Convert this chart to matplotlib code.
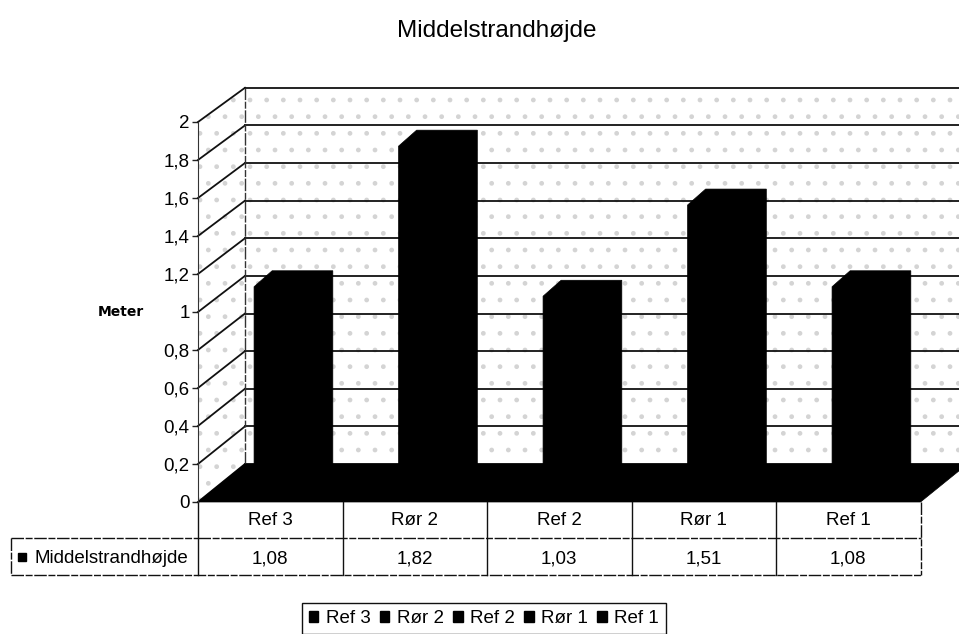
import matplotlib
matplotlib.use("Agg")
import matplotlib.pyplot as plt
from matplotlib.patches import Polygon, Patch

plt.rcParams['font.family'] = ['Liberation Sans', 'DejaVu Sans']

categories = ["Ref 3", "Rør 2", "Ref 2", "Rør 1", "Ref 1"]
values = [1.08, 1.82, 1.03, 1.51, 1.08]
values_text = ["1,08", "1,82", "1,03", "1,51", "1,08"]
y_ticks = [0, 0.2, 0.4, 0.6, 0.8, 1, 1.2, 1.4, 1.6, 1.8, 2]
y_labels = ["0", "0,2", "0,4", "0,6", "0,8", "1", "1,2", "1,4", "1,6", "1,8", "2"]
series_name = "Middelstrandhøjde"

# fake 3d depth, in data units
wall_dx = 0.325
wall_dy = 0.2
wall_scale = 0.99
bar_left = 0.388
bar_w = 0.42
bar_base = 0.053
bar_dx = 0.125
bar_dy = 0.084
row_h = 0.192
head_left = -1.294

dash = (0, (9, 1.2, 5, 1.2))

fig = plt.figure(figsize=(9.59, 6.34), dpi=100)
ax = fig.add_axes([198 / 959, (634 - 502) / 634, 722.5 / 959, 380 / 634])
ax.set_xlim(0, 5)
ax.set_ylim(0, 2)
ax.patch.set_alpha(0)

n = len(categories)
top_back = wall_dy + 2 * wall_scale

# walls, faint dots stand in for the scan speckle
ax.add_patch(Polygon([(wall_dx, wall_dy), (n + wall_dx, wall_dy), (n + wall_dx, top_back), (wall_dx, top_back)],
                     facecolor="white", edgecolor="#d4d4d4", hatch=".", lw=0, clip_on=False, zorder=1))
ax.add_patch(Polygon([(0, 0), (wall_dx, wall_dy), (wall_dx, top_back), (0, 2)],
                     facecolor="white", edgecolor="#d4d4d4", hatch=".", lw=0, clip_on=False, zorder=1))

# gridlines on the walls
for t in y_ticks:
    y_b = wall_dy + t * wall_scale
    ax.plot([wall_dx, n + wall_dx], [y_b, y_b], color="#111111", lw=1.3, clip_on=False, zorder=2)
    ax.plot([0, wall_dx], [t, y_b], color="#111111", lw=1.3, clip_on=False, zorder=2)
ax.plot([wall_dx, wall_dx], [wall_dy, top_back], color="#333333", lw=1, ls=dash, clip_on=False, zorder=2)

# floor
ax.add_patch(Polygon([(0, 0), (wall_dx, wall_dy), (n + wall_dx, wall_dy), (n, 0)],
                     facecolor="black", edgecolor="black", lw=0.5, clip_on=False, zorder=3))

# bars, all black so only the outline shows
for i, v in enumerate(values):
    x0 = i + bar_left
    top = v + bar_base
    ax.add_patch(Polygon([(x0, bar_base), (x0, top), (x0 + bar_dx, top + bar_dy),
                          (x0 + bar_w + bar_dx, top + bar_dy), (x0 + bar_w + bar_dx, bar_base + bar_dy),
                          (x0 + bar_w, bar_base)],
                         facecolor="black", edgecolor="black", lw=0.5, clip_on=False, zorder=4))

# y axis
for s in ["top", "right", "bottom"]:
    ax.spines[s].set_visible(False)
ax.spines["left"].set_color("#333333")
ax.spines["left"].set_zorder(5)
ax.set_xticks([])
ax.set_yticks(y_ticks)
ax.set_yticklabels(y_labels, fontsize=13.5)
ax.tick_params(axis="y", length=4.5, width=1, pad=1.5, color="#222222")

# data table
kw = dict(color="#111111", lw=1, clip_on=False, zorder=5)
ax.plot([0, n], [-row_h, -row_h], ls=dash, **kw)
ax.plot([head_left, 0], [-row_h, -row_h], ls=dash, **kw)
ax.plot([head_left, n], [-2 * row_h, -2 * row_h], ls=dash, **kw)
ax.plot([head_left, head_left], [-row_h, -2 * row_h], ls=dash, **kw)
for i in range(n + 1):
    ax.plot([i, i], [0, -2 * row_h], ls="-" if i < n else dash, **kw)
for i in range(n):
    ax.text(i + 0.5, -0.5 * row_h, categories[i], ha="center", va="center", fontsize=13.5, clip_on=False)
    ax.text(i + 0.5, -1.5 * row_h - 0.01, values_text[i], ha="center", va="center", fontsize=13.5, clip_on=False)
ax.plot([head_left + 0.077], [-1.5 * row_h], marker="s", ms=6, color="black", clip_on=False, zorder=5)
ax.text(head_left + 0.16, -1.5 * row_h - 0.01, series_name, ha="left", va="center", fontsize=13.5, clip_on=False)

fig.text(121 / 959, 1 - 312 / 634, "Meter", ha="center", va="center", fontsize=10, fontweight="bold",
         family=["DejaVu Sans"])
fig.text(497 / 959, 1 - 31 / 634, series_name, ha="center", va="center", fontsize=17.5)

handles = [Patch(facecolor="black", edgecolor="black", label=c) for c in categories]
leg = fig.legend(handles=handles, ncol=5, loc="center", bbox_to_anchor=(484 / 959, 1 - 618.5 / 634),
                 fontsize=13.5, frameon=True, fancybox=False, framealpha=1, edgecolor="#111111",
                 handlelength=0.5, handleheight=0.5, handletextpad=0.4, columnspacing=0.5,
                 borderpad=0.35, borderaxespad=0)
leg.get_frame().set_linewidth(1)

plt.savefig("out.png", dpi=100)
